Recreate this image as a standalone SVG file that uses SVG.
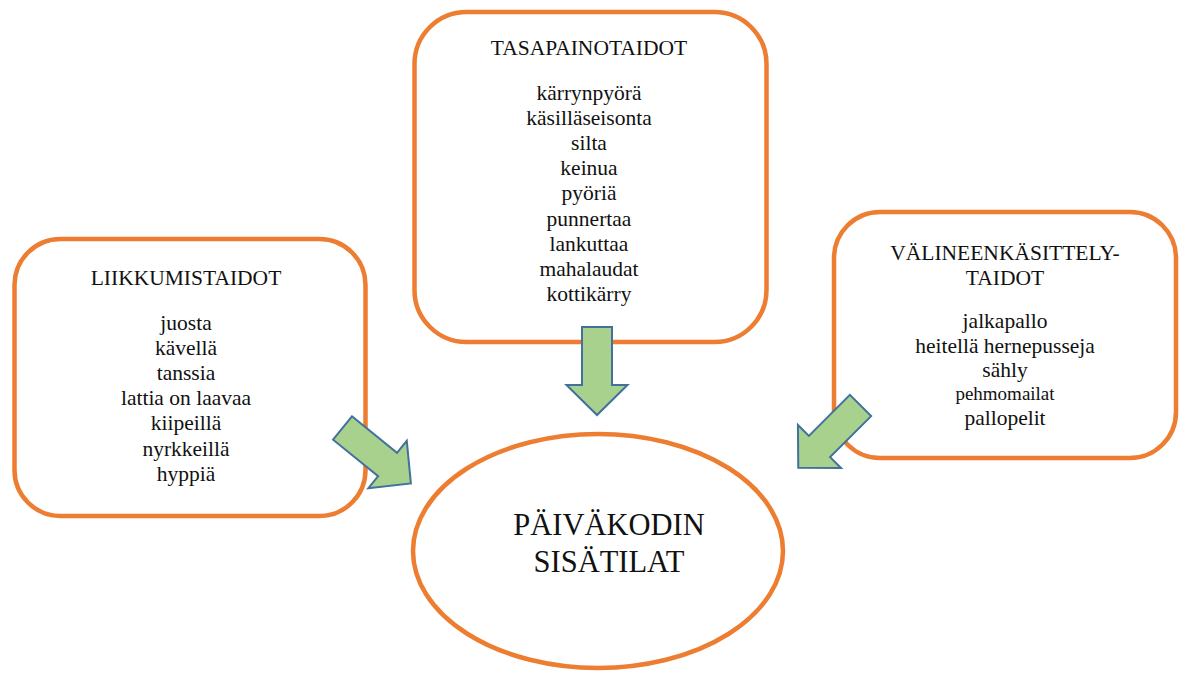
<svg xmlns="http://www.w3.org/2000/svg" width="1181" height="674" viewBox="0 0 1181 674">
  <style>
    .box { fill: #ffffff; stroke: #ED7D31; stroke-width: 4.5; }
    .t { font-family: "Liberation Serif", "Times New Roman", serif; font-size: 21.5px; fill: #111; text-anchor: middle; }
    .small { font-size: 19px; }
    .big { font-size: 30.5px; }
    .arrow { fill: #A9D18E; stroke: #41719C; stroke-width: 2; stroke-linejoin: miter; }
  </style>
  <defs>
    <!-- block arrow pointing along +x, origin at the middle of its tail -->
    <path id="blockArrow" d="M0,-15 L58,-15 L58,-30.5 L88,0 L58,30.5 L58,15 L0,15 Z"/>
  </defs>
  <rect width="1181" height="674" fill="#ffffff"/>

  <g id="tasapainotaidot">
    <rect class="box" x="414.5" y="12" width="352" height="330" rx="52"/>
    <text class="t" x="589" y="55">TASAPAINOTAIDOT</text>
    <text class="t" x="589" y="100">kärrynpyörä</text>
    <text class="t" x="589" y="125.1">käsilläseisonta</text>
    <text class="t" x="589" y="150.2">silta</text>
    <text class="t" x="589" y="175.3">keinua</text>
    <text class="t" x="589" y="200.4">pyöriä</text>
    <text class="t" x="589" y="225.5">punnertaa</text>
    <text class="t" x="589" y="250.6">lankuttaa</text>
    <text class="t" x="589" y="275.7">mahalaudat</text>
    <text class="t" x="589" y="300.8">kottikärry</text>
  </g>

  <g id="liikkumistaidot">
    <rect class="box" x="14.5" y="239" width="351" height="277" rx="46"/>
    <text class="t" x="186" y="285">LIIKKUMISTAIDOT</text>
    <text class="t" x="186" y="329.5">juosta</text>
    <text class="t" x="186" y="354.7">kävellä</text>
    <text class="t" x="186" y="379.9">tanssia</text>
    <text class="t" x="186" y="405.1">lattia on laavaa</text>
    <text class="t" x="186" y="430.3">kiipeillä</text>
    <text class="t" x="186" y="455.5">nyrkkeillä</text>
    <text class="t" x="186" y="480.7">hyppiä</text>
  </g>

  <g id="valineenkasittelytaidot">
    <rect class="box" x="834" y="212" width="342" height="246" rx="46"/>
    <text class="t" x="1005" y="260">VÄLINEENKÄSITTELY-</text>
    <text class="t" x="1005" y="285">TAIDOT</text>
    <text class="t" x="1005" y="328">jalkapallo</text>
    <text class="t" x="1005" y="353">heitellä hernepusseja</text>
    <text class="t" x="1005" y="377">sähly</text>
    <text class="t small" x="1005" y="400">pehmomailat</text>
    <text class="t" x="1005" y="425">pallopelit</text>
  </g>

  <g id="paivakodin-sisatilat">
    <ellipse class="box" cx="598" cy="551" rx="185" ry="117" stroke-width="5"/>
    <text class="t big" x="609" y="535">PÄIVÄKODIN</text>
    <text class="t big" x="609" y="572">SISÄTILAT</text>
  </g>

  <g id="connectors">
    <use href="#blockArrow" class="arrow" transform="translate(597,327) rotate(90)"/>
    <use href="#blockArrow" class="arrow" transform="translate(342.5,428) rotate(39)"/>
    <use href="#blockArrow" class="arrow" transform="translate(860.5,405.5) rotate(135)"/>
  </g>
</svg>
